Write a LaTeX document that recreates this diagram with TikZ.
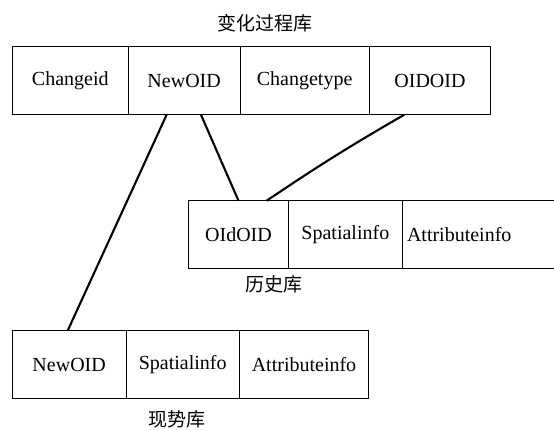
\documentclass[tikz,border=0pt]{standalone}
\usepackage{fontspec}
\setmainfont{Liberation Serif}
\newfontfamily\cjk{Noto Sans CJK SC}
\usetikzlibrary{positioning}
\begin{document}
\begin{tikzpicture}[x=1pt, y=-1pt, font=\fontsize{20}{24}\selectfont,
  cell/.style={draw, line width=.8pt, minimum height=68pt, inner sep=0pt, outer sep=0pt},
  link/.style={line width=2.1pt},
  cjklabel/.style={font=\cjk\fontsize{19}{23}\selectfont}]
\useasboundingbox (0,0) rectangle (554,429);
\clip (0,0) rectangle (554,429);

\node[cjklabel] (ttitle) at (265,23) {变化过程库};
\node[cell, minimum width=116pt, anchor=north west] (tid) at (12.3,46.7) {Changeid};
\node[cell, minimum width=111.7pt, right=0pt of tid] (tnew) {NewOID};
\node[cell, minimum width=129.3pt, right=0pt of tnew] (ttype) {Changetype};
\node[cell, minimum width=121.4pt, right=0pt of ttype] (toid) {OIDOID};

\node[cell, minimum width=100.4pt, anchor=north west] (hold) at (188.3,200.7) {OIdOID};
\node[cell, minimum width=113.3pt, right=0pt of hold] (hsp) {Spatialinfo};
\node[cell, text width=160pt, align=left, inner xsep=5pt, right=0pt of hsp] (hatt) {Attributeinfo};
\node[cjklabel] (htitle) at (274,284) {历史库};

\node[cell, minimum width=113.7pt, anchor=north west] (cnew) at (12.3,330.7) {NewOID};
\node[cell, minimum width=113.3pt, right=0pt of cnew] (csp) {Spatialinfo};
\node[cell, minimum width=129.4pt, right=0pt of csp] (catt) {Attributeinfo};
\node[cjklabel] (ctitle) at (177,419) {现势库};

\draw[link] ([xshift=-17.5pt]tnew.south) -- ([xshift=-1.5pt]cnew.north);
\draw[link] ([xshift=16.8pt]tnew.south) -- (hold.north);
\draw[link] ([xshift=-25.7pt]toid.south) to[bend right=2] ([xshift=28.2pt]hold.north);
\end{tikzpicture}
\end{document}
